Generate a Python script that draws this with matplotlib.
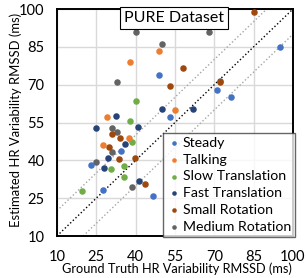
import matplotlib
matplotlib.use('Agg')
import matplotlib.pyplot as plt

plt.rcParams['font.family'] = ['Lato', 'DejaVu Sans']

# datos (verdad, estimado)
steady_x = [49, 95, 71, 76.5, 53, 34.5, 23, 27.4, 46.5]
steady_y = [74, 85, 68, 65, 57, 43.7, 38, 28.4, 25.7]
talking_x = [49, 38, 55, 29, 37.5, 27.4]
talking_y = [83.5, 79, 60, 57, 49, 46]
slow_x = [40, 38, 38.6, 30.5, 35.6, 35.7, 19.4]
slow_y = [63.5, 55.5, 47.3, 36.4, 37.8, 33.5, 27.7]
fast_x = [50, 62, 32.5, 25, 41, 36, 29.6, 28, 41.3]
fast_y = [60.5, 60.5, 57.5, 52.7, 53.3, 46.6, 41, 37, 32]
small_x = [53, 85, 58, 72, 31, 34, 30, 33.5, 39.7, 43.7]
small_y = [69.5, 99, 76.5, 71, 50.4, 49, 45.4, 40.5, 40.8, 30.6]
medium_x = [40, 50, 33, 68, 72, 31, 33, 31, 25, 38.7]
medium_y = [91, 86, 71, 91, 71.6, 53, 51.3, 43.3, 39.2, 29.3]

series = [
    ('Steady', steady_x, steady_y, '#4472C4'),
    ('Talking', talking_x, talking_y, '#ED7D31'),
    ('Slow Translation', slow_x, slow_y, '#70AD47'),
    ('Fast Translation', fast_x, fast_y, '#264478'),
    ('Small Rotation', small_x, small_y, '#9E480E'),
    ('Medium Rotation', medium_x, medium_y, '#636363'),
]
ticks = [10, 25, 40, 55, 70, 85, 100]

fig = plt.figure(figsize=(3.06, 2.78), dpi=100)
ax = fig.add_axes([0.186, 0.151, 0.7715, 0.8166])

# lineas de referencia
ax.plot([10, 100], [10, 100], color='black', linestyle=':', linewidth=1, zorder=2)
ax.plot([10, 90], [20, 100], color='#A6A6A6', linestyle=':', linewidth=1, zorder=2)
ax.plot([20, 100], [10, 90], color='#A6A6A6', linestyle=':', linewidth=1, zorder=2)

# medium rotation primero para quedar debajo
for name, xs, ys, c in series[::-1]:
    ax.scatter(xs, ys, s=22, color=c, label=name, zorder=3, linewidths=0)

ax.set_xlim(10, 100)
ax.set_ylim(10, 100)
ax.set_xticks(ticks)
ax.set_yticks(ticks)
ax.tick_params(length=0, labelsize=10.5)
ax.tick_params(axis='x', pad=10)
ax.tick_params(axis='y', pad=9)
ax.grid(True, color='#D9D9D9', linewidth=1, zorder=0)
ax.set_axisbelow(True)
for sp in ax.spines.values():
    sp.set_linewidth(1.4)
    sp.set_color('black')

ax.set_xlabel('Ground Truth HR Variability RMSSD (ms)', fontsize=9.2)
ax.set_ylabel('Estimated HR Variability RMSSD (ms)', fontsize=9.4)
ax.xaxis.set_label_coords(0.51, -0.118)
ax.yaxis.set_label_coords(-0.15, 0.513)

ax.text(0.495, 0.99, 'PURE Dataset', transform=ax.transAxes, ha='center', va='top',
        fontsize=11.5, zorder=5,
        bbox=dict(boxstyle='square,pad=0.25', facecolor='white', edgecolor='black', linewidth=0.8))

handles, labels = ax.get_legend_handles_labels()
leg = fig.legend(handles[::-1], labels[::-1], loc='upper left', bbox_to_anchor=(0.533, 0.522),
                 fontsize=10.2, frameon=True, fancybox=False, edgecolor='#404040',
                 handletextpad=0.1, labelspacing=0.33, borderpad=0.3, handlelength=1.0,
                 markerscale=0.7, borderaxespad=0)
leg.get_frame().set_linewidth(1)
leg.set_zorder(10)

fig.savefig('out.png', dpi=100)
